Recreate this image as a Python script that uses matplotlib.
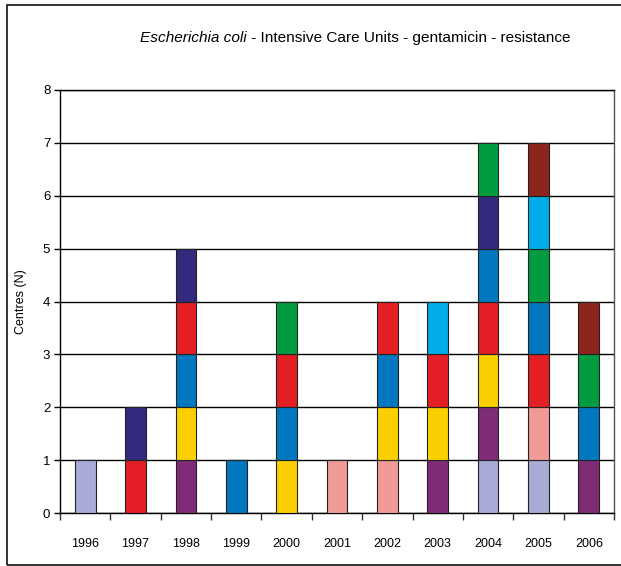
import matplotlib
matplotlib.use("Agg")
import matplotlib.pyplot as plt
from matplotlib.patches import Rectangle

# Centre colours used for the stacked segments
centre_colours = {
    "lavender": "#A7ABD6",
    "red": "#E31E24",
    "navy": "#332A7E",
    "purple": "#7F2C76",
    "yellow": "#FCCF00",
    "blue": "#0077BF",
    "green": "#009C3F",
    "pink": "#F09B97",
    "cyan": "#00ADE8",
    "brown": "#8C251C",
}

years = ["1996", "1997", "1998", "1999", "2000", "2001",
         "2002", "2003", "2004", "2005", "2006"]

# Resistant centres per year, listed bottom to top (one centre per segment)
centres_1996 = ["lavender"]
centres_1997 = ["red", "navy"]
centres_1998 = ["purple", "yellow", "blue", "red", "navy"]
centres_1999 = ["blue"]
centres_2000 = ["yellow", "blue", "red", "green"]
centres_2001 = ["pink"]
centres_2002 = ["pink", "yellow", "blue", "red"]
centres_2003 = ["purple", "yellow", "red", "cyan"]
centres_2004 = ["lavender", "purple", "yellow", "red", "blue", "navy", "green"]
centres_2005 = ["lavender", "pink", "red", "blue", "green", "cyan", "brown"]
centres_2006 = ["purple", "blue", "green", "brown"]

stacks = [centres_1996, centres_1997, centres_1998, centres_1999, centres_2000,
          centres_2001, centres_2002, centres_2003, centres_2004, centres_2005,
          centres_2006]

y_ticks = [0, 1, 2, 3, 4, 5, 6, 7, 8]

plt.rcParams["font.family"] = ["Liberation Sans", "DejaVu Sans"]

fig = plt.figure(figsize=(6.21, 5.66), dpi=100)
ax = fig.add_axes([60 / 621, 1 - 513 / 566, 554 / 621, 423 / 566])

# Outer frame of the figure
fig.patches.append(Rectangle((7 / 621, 1 - 565 / 566), 620 / 621, 560 / 566,
                             transform=fig.transFigure, fill=False,
                             edgecolor="#111111", linewidth=1.2))

x = list(range(len(years)))
for xi, stack in zip(x, stacks):
    bottom = 0
    for centre in stack:
        ax.bar(xi, 1, bottom=bottom, width=0.41, color=centre_colours[centre],
               edgecolor="#222222", linewidth=0.8, zorder=3)
        bottom += 1

ax.set_xlim(-0.5, len(years) - 0.5)
ax.set_ylim(0, 8)
ax.set_yticks(y_ticks)
ax.set_yticklabels([str(v) for v in y_ticks], fontsize=9.5)
ax.set_xticks([i + 0.5 for i in range(-1, len(years))], minor=False)
ax.set_xticklabels([])
ax.set_xticks(x, minor=True)
ax.set_xticklabels(years, minor=True, fontsize=9)
ax.tick_params(axis="x", which="major", direction="out", length=5, width=1, color="#333333")
ax.tick_params(axis="x", which="minor", length=0, pad=18)
ax.tick_params(axis="y", direction="out", length=4, width=1, pad=3)

ax.yaxis.grid(True, color="black", linewidth=1.0, zorder=1)
ax.set_axisbelow(True)
for side in ["left", "bottom", "top"]:
    ax.spines[side].set_color("black")
    ax.spines[side].set_linewidth(1.0)
ax.spines["right"].set_color("#555555")
ax.spines["right"].set_linewidth(1.0)

ax.set_ylabel("Centres (N)", fontsize=9)
ax.yaxis.set_label_coords(-33 / 554, 0.5)

# Title with the species name in italics
title_y = 1 - 38 / 566
t1 = fig.text(140 / 621, title_y, "Escherichia coli", style="italic",
              fontsize=11.1, ha="left", va="center")
fig.canvas.draw()
bb = t1.get_window_extent()
fig.text(bb.x1 / fig.bbox.width, title_y,
         " - Intensive Care Units - gentamicin - resistance",
         fontsize=11.1, ha="left", va="center")

fig.savefig("out.png", dpi=100)
